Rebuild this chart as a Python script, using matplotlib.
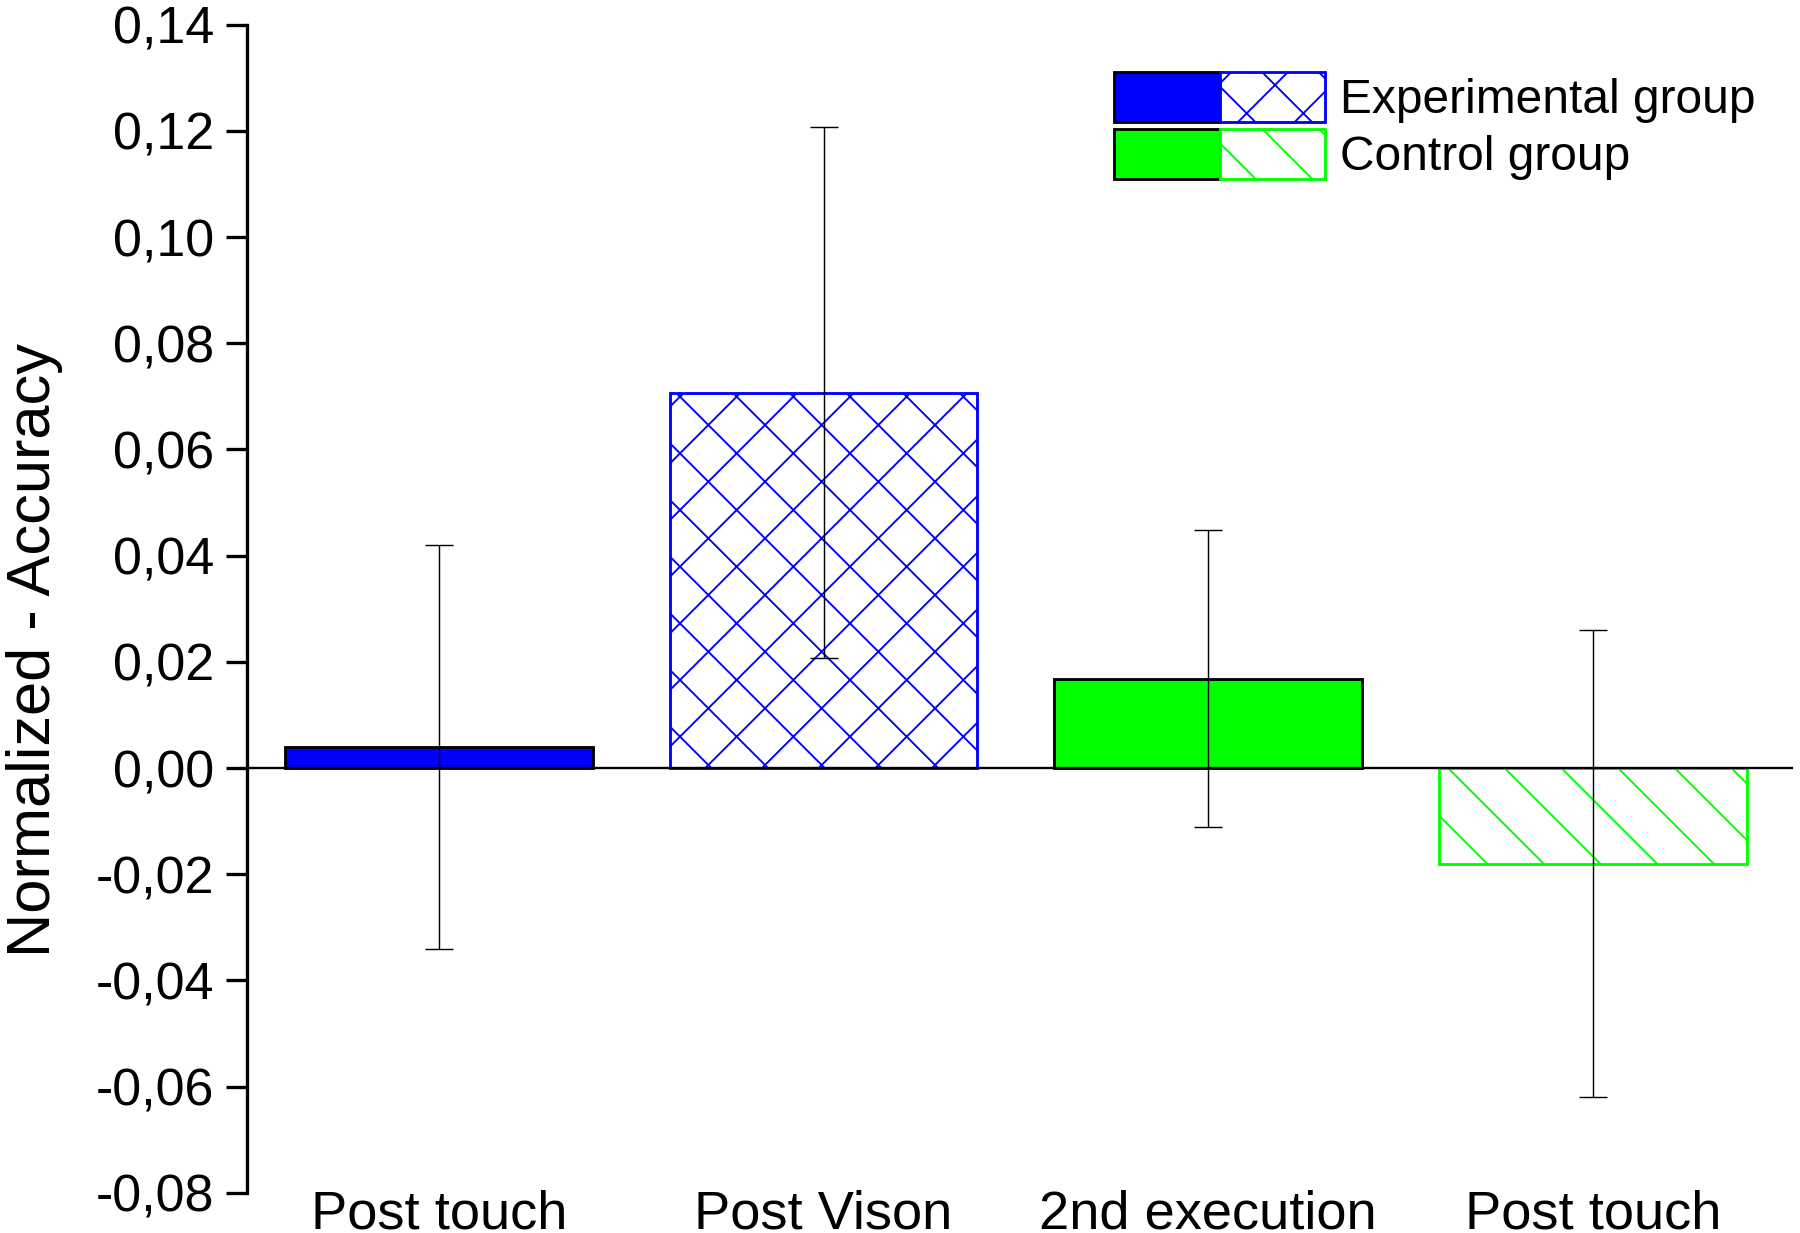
import matplotlib
matplotlib.use("Agg")
import matplotlib.pyplot as plt
from matplotlib.patches import Patch
from matplotlib.legend_handler import HandlerTuple
from matplotlib.ticker import FuncFormatter

categories = ["Post touch", "Post Vison", "2nd execution", "Post touch"]
values = [0.004, 0.0707, 0.0168, -0.018]
errors = [0.038, 0.050, 0.028, 0.044]
face_colors = ["#0000ff", "white", "#00ff00", "white"]
edge_colors = ["black", "#0000ff", "black", "#00ff00"]
hatches = [None, "x", None, "\\"]
y_ticks = [-0.08, -0.06, -0.04, -0.02, 0.0, 0.02, 0.04, 0.06, 0.08, 0.10, 0.12, 0.14]
legend_labels = ["Experimental group", "Control group"]

plt.rcParams["font.family"] = ["Liberation Sans", "DejaVu Sans"]
plt.rcParams["hatch.linewidth"] = 0.8

DPI = 170
fig = plt.figure(figsize=(1800 / DPI, 1233 / DPI), dpi=DPI)
ax = fig.add_axes([0.137, 0.0326, 0.996 - 0.137, 0.980 - 0.0326])

x = list(range(1, len(values) + 1))
for xi, v, fc, ec, h in zip(x, values, face_colors, edge_colors, hatches):
    ax.bar(xi, v, width=0.8, facecolor=fc, edgecolor=ec, hatch=h, linewidth=1.2, zorder=2)

ax.axhline(0, color="black", linewidth=1.0, zorder=3)
ax.errorbar(x, values, yerr=errors, fmt="none", ecolor="black", elinewidth=0.6,
            capsize=6, capthick=0.6, zorder=4)

ax.set_xlim(0.5, 4.52)
ax.set_ylim(-0.08, 0.14)
ax.set_yticks(y_ticks)
ax.yaxis.set_major_formatter(FuncFormatter(lambda v, p: f"{v:.2f}".replace(".", ",").replace("-0,00", "0,00")))
ax.set_xticks(x)
ax.set_xticklabels(categories, fontsize=23)
ax.tick_params(axis="x", length=0, pad=-1.5)
ax.tick_params(axis="y", labelsize=22, length=8.8, width=1.4, direction="out", pad=5)

for s in ["top", "right", "bottom"]:
    ax.spines[s].set_visible(False)
ax.spines["left"].set_linewidth(1.4)

ax.set_ylabel("Normalized - Accuracy", fontsize=26)
ax.yaxis.set_label_coords(-0.119, 0.465)

h_exp = (Patch(facecolor="#0000ff", edgecolor="black", linewidth=1.2),
         Patch(facecolor="white", edgecolor="#0000ff", hatch="x", linewidth=1.2))
h_ctl = (Patch(facecolor="#00ff00", edgecolor="black", linewidth=1.2),
         Patch(facecolor="white", edgecolor="#00ff00", hatch="\\", linewidth=1.2))
fig.legend([h_exp, h_ctl], legend_labels, handler_map={tuple: HandlerTuple(ndivide=None, pad=0)},
           loc="upper left", bbox_to_anchor=(0.619, 0.942), frameon=False, fontsize=20.3,
           handlelength=4.4, handleheight=1.25, labelspacing=0.12, handletextpad=0.32,
           borderpad=0, borderaxespad=0)

fig.savefig("out.png", dpi=DPI)
